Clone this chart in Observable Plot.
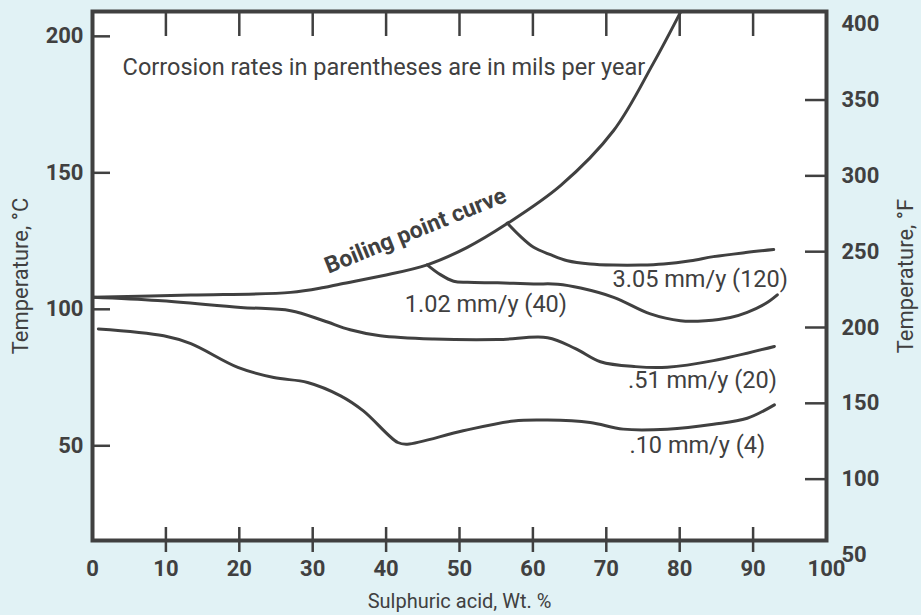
<!DOCTYPE html>
<html><head><meta charset="utf-8">
<script src="https://cdn.jsdelivr.net/npm/d3@7"></script>
<script src="https://cdn.jsdelivr.net/npm/@observablehq/plot@0.6"></script>
<style>
html,body{margin:0;padding:0;background:#e1f2f5;}
#chart{width:921px;height:615px;}
</style></head><body><div id="chart"></div>
<script>
// ---- data (x: sulphuric acid wt.%, y: temperature °C) ----
const boilingX = [0, 13.4, 27.0, 31.5, 33.8, 39.5, 45.6, 51.0, 56.5, 63.8, 71.0, 76.4, 80.1];
const boilingY = [104.4, 105.2, 106.2, 108.0, 109.3, 112.3, 116.3, 122.6, 131.4, 145.4, 165.5, 190.1, 208.8];

const r305X = [56.5, 58.3, 60.1, 62.4, 64.7, 67.8, 71.0, 74.7, 77.8, 81.5, 84.6, 89.0, 92.8];
const r305Y = [131.6, 126.7, 122.7, 120.0, 117.8, 116.6, 116.2, 116.2, 116.6, 117.8, 119.3, 120.8, 121.9];

const r102X = [45.6, 47.4, 49.2, 51.1, 55.2, 60.1, 63.4, 66.5, 71.0, 76.0, 80.1, 83.5, 86.9, 89.2, 91.7, 93.3];
const r102Y = [116.3, 112.7, 110.3, 109.9, 109.7, 109.3, 109.2, 107.8, 104.4, 98.3, 95.8, 95.8, 97.0, 98.9, 102.1, 105.3];

const r051X = [0, 8.9, 20.2, 27.0, 31.5, 35.1, 39.2, 46.5, 55.2, 62.0, 65.8, 69.2, 74.0, 78.3, 84.6, 92.9];
const r051Y = [104.4, 103.2, 100.7, 99.5, 95.8, 92.5, 90.3, 89.1, 88.9, 89.6, 85.6, 80.8, 79.0, 78.8, 81.2, 86.4];

const r010X = [0.8, 9.7, 13.4, 19.8, 24.7, 29.3, 33.8, 36.9, 41.6, 42.9, 50.5, 57.4, 62.0, 67.8, 72.3, 78.3, 84.6, 89.2, 92.9];
const r010Y = [92.8, 90.3, 87.4, 78.7, 75.0, 73.2, 68.3, 62.8, 51.2, 50.6, 55.5, 59.1, 59.4, 58.5, 56.1, 56.1, 57.9, 60.1, 65.0];

const xTickLabels = [0, 10, 20, 30, 40, 50, 60, 70, 80, 90, 100];
const xInnerTicks = [10, 20, 30, 40, 50, 60, 70, 80, 90];
const cTicks = [50, 100, 150, 200];
const fTickMarks = [100, 150, 200, 250, 300, 350];
const fTickLabels = [50, 100, 150, 200, 250, 300, 350, 400];

const labelTexts = ["3.05 mm/y (120)", "1.02 mm/y (40)", ".51 mm/y (20)", ".10 mm/y (4)"];
const labelX = [82.8, 53.6, 83.1, 82.4];
const labelY = [111.1, 101.6, 73.8, 50.0];

const noteText = "Corrosion rates in parentheses are in mils per year";
const noteX = 4.1, noteY = 188.7;
const boilText = "Boiling point curve";
const boilTextX = 44.0, boilTextY = 128.8;

// ---- helpers ----
const ink = "#404040";
const f2c = f => (f - 32) * 5 / 9;
const c2f = c => c * 9 / 5 + 32;
const toRows = (xs, ys) => xs.map((x, i) => ({x, y: ys[i]}));
const series = [
  toRows(boilingX, boilingY),
  toRows(r305X, r305Y),
  toRows(r102X, r102Y),
  toRows(r051X, r051Y),
  toRows(r010X, r010Y)
];
const labels = labelTexts.map((t, i) => ({t, x: labelX[i], y: labelY[i]}));

const plot = Plot.plot({
  width: 921,
  height: 615,
  marginLeft: 92,
  marginRight: 95,
  marginTop: 11,
  marginBottom: 75,
  style: {background: "transparent", color: ink, fontFamily: "Roboto, sans-serif"},
  x: {domain: [0, 100]},
  y: {domain: [15.3, 209.1]},
  marks: [
    Plot.frame({fill: "white", stroke: null}),
    // left °C axis
    Plot.axisY(cTicks, {anchor: "left", tickSize: -18, strokeWidth: 2.5, fill: "none", label: null}),
    Plot.axisY(cTicks, {anchor: "left", tickSize: 0, tickPadding: 9, fontSize: 22, fontWeight: "bold", label: null}),
    Plot.axisY([], {anchor: "left", tickSize: 0, fontSize: 22, label: "Temperature, °C", labelAnchor: "center", labelOffset: 80, labelArrow: "none"}),
    // right °F axis
    Plot.axisY(fTickMarks.map(f2c), {anchor: "right", tickSize: -22, strokeWidth: 2.5, fill: "none", label: null}),
    Plot.axisY(fTickLabels.map(f2c), {anchor: "right", tickSize: 0, tickPadding: 15, fontSize: 22, fontWeight: "bold", tickFormat: d => Math.round(c2f(d)), label: null}),
    Plot.axisY([], {anchor: "right", tickSize: 0, fontSize: 22, label: "Temperature, °F", labelAnchor: "center", labelOffset: 86, labelArrow: "none"}),
    // x axes
    Plot.axisX(xInnerTicks, {anchor: "top", tickSize: -24, strokeWidth: 2.5, fill: "none", label: null}),
    Plot.axisX(xInnerTicks, {anchor: "bottom", tickSize: 25, dy: -13, strokeWidth: 2.5, fill: "none", label: null}),
    Plot.axisX(xTickLabels, {anchor: "bottom", tickSize: 0, tickPadding: 20, fontSize: 22, fontWeight: "bold", label: null}),
    Plot.axisX([], {anchor: "bottom", tickSize: 0, fontSize: 20, label: "Sulphuric acid, Wt. %", labelAnchor: "center", labelOffset: 67, labelArrow: "none"}),
    // curves
    ...series.map(s => Plot.line(s, {x: "x", y: "y", stroke: ink, strokeWidth: 3, curve: "catmull-rom"})),
    // labels
    Plot.text(labels, {x: "x", y: "y", text: "t", fill: ink, fontSize: 23.5, textAnchor: "middle"}),
    Plot.text([noteText], {x: noteX, y: noteY, text: d => d, fill: ink, fontSize: 23.5, textAnchor: "start"}),
    Plot.text([boilText], {x: boilTextX, y: boilTextY, text: d => d, fill: ink, fontSize: 23, fontWeight: "bold", rotate: -22}),
    Plot.frame({stroke: ink, strokeWidth: 4})
  ]
});
document.getElementById("chart").appendChild(plot);
</script></body></html>
